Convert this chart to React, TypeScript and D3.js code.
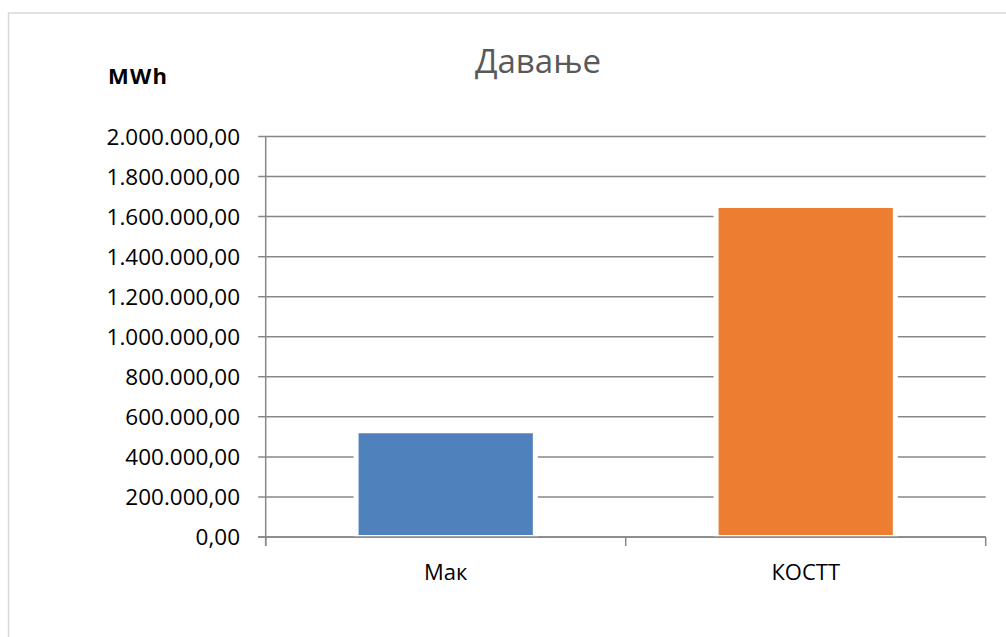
import React, { useEffect, useRef } from 'react';
import * as d3 from 'd3';

const categories = ['Мак', 'КОСТТ'];
const values = [518000, 1643000];
const barColors = ['#4f81bd', '#ed7d31'];
const yTickValues = [0, 200000, 400000, 600000, 800000, 1000000, 1200000, 1400000, 1600000, 1800000, 2000000];
const title = 'Давање';
const unitLabel = 'MWh';

const W = 1006;
const H = 637;
const FONT = '"Open Sans", "Liberation Sans", sans-serif';

export default function App() {
  const svgRef = useRef<SVGSVGElement>(null);

  useEffect(() => {
    if (!svgRef.current) return;
    const svg = d3.select(svgRef.current);
    svg.selectAll('*').remove();

    const plot = { left: 265.7, right: 985.7, top: 136.5, bottom: 537 };

    const locale = d3.formatLocale({ decimal: ',', thousands: '.', grouping: [3], currency: ['', ''] });
    const fmt = locale.format(',.2f');

    const x = d3.scaleBand<string>()
      .domain(categories)
      .range([plot.left, plot.right])
      .paddingInner(0.516)
      .paddingOuter(0.258);

    const y = d3.scaleLinear()
      .domain([0, 2000000])
      .range([plot.bottom, plot.top]);

    // chart area border
    svg.append('rect')
      .attr('x', 8.5)
      .attr('y', 13)
      .attr('width', W + 10)
      .attr('height', H + 10)
      .attr('fill', '#fff')
      .attr('stroke', '#d9d9d9')
      .attr('stroke-width', 1.5);

    // title
    svg.append('text')
      .attr('x', 538)
      .attr('y', 73)
      .attr('text-anchor', 'middle')
      .attr('font-family', FONT)
      .attr('font-size', 33)
      .attr('fill', '#595959')
      .text(title);

    svg.append('text')
      .attr('x', 108)
      .attr('y', 84)
      .attr('font-family', FONT)
      .attr('font-size', 22)
      .attr('font-weight', 'bold')
      .attr('letter-spacing', 1.2)
      .attr('fill', '#000')
      .text(unitLabel);

    // gridlines
    svg.append('g')
      .selectAll('line')
      .data(yTickValues)
      .enter()
      .append('line')
      .attr('x1', plot.left - 7.5)
      .attr('x2', plot.right)
      .attr('y1', d => y(d))
      .attr('y2', d => y(d))
      .attr('stroke', '#878787')
      .attr('stroke-width', 1.5);

    // y tick labels
    svg.append('g')
      .selectAll('text')
      .data(yTickValues)
      .enter()
      .append('text')
      .attr('x', 240)
      .attr('y', d => y(d))
      .attr('dy', '0.36em')
      .attr('text-anchor', 'end')
      .attr('font-family', FONT)
      .attr('font-size', 22.5)
      .attr('fill', '#000')
      .text(d => fmt(d));

    // bars with a white gap around them
    const bars = svg.append('g');
    bars.selectAll('rect.gap')
      .data(values)
      .enter()
      .append('rect')
      .attr('class', 'gap')
      .attr('x', (_, i) => (x(categories[i]) as number) - 5)
      .attr('y', d => y(d) - 5)
      .attr('width', x.bandwidth() + 10)
      .attr('height', d => y(0) - y(d) + 5)
      .attr('fill', '#fff');

    bars.selectAll('rect.bar')
      .data(values)
      .enter()
      .append('rect')
      .attr('class', 'bar')
      .attr('x', (_, i) => x(categories[i]) as number)
      .attr('y', d => y(d))
      .attr('width', x.bandwidth())
      .attr('height', d => y(0) - y(d) - 2)
      .attr('fill', (_, i) => barColors[i]);

    // axes
    svg.append('line')
      .attr('x1', plot.left)
      .attr('x2', plot.left)
      .attr('y1', plot.top)
      .attr('y2', plot.bottom + 9)
      .attr('stroke', '#878787')
      .attr('stroke-width', 1.5);

    svg.append('line')
      .attr('x1', plot.left - 7.5)
      .attr('x2', plot.right)
      .attr('y1', y(0))
      .attr('y2', y(0))
      .attr('stroke', '#878787')
      .attr('stroke-width', 1.5);

    const boundaries = [plot.left, ...categories.map(c => (x(c) as number) + x.bandwidth() / 2 + x.step() / 2)];
    svg.append('g')
      .selectAll('line')
      .data(boundaries)
      .enter()
      .append('line')
      .attr('x1', d => d)
      .attr('x2', d => d)
      .attr('y1', plot.bottom)
      .attr('y2', plot.bottom + 9)
      .attr('stroke', '#878787')
      .attr('stroke-width', 1.5);

    svg.append('g')
      .selectAll('text')
      .data(categories)
      .enter()
      .append('text')
      .attr('x', d => (x(d) as number) + x.bandwidth() / 2)
      .attr('y', 580)
      .attr('text-anchor', 'middle')
      .attr('font-family', FONT)
      .attr('font-size', 22)
      .attr('fill', '#000')
      .text(d => d);
  }, []);

  return (
    <svg
      ref={svgRef}
      width={W}
      height={H}
      style={{ position: 'absolute', left: 0, top: 0, display: 'block' }}
    />
  );
}
